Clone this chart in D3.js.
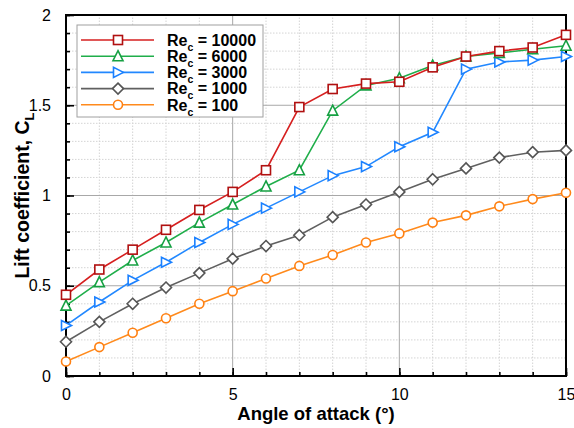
<!DOCTYPE html>
<html>
<head>
<meta charset="utf-8">
<script src="https://cdn.jsdelivr.net/npm/d3@7"></script>
<style>
  html, body { margin: 0; padding: 0; background: #fff; }
  svg { display: block; font-family: "Liberation Sans", Arial, sans-serif; }
</style>
</head>
<body>
<svg id="chart" width="574" height="428"></svg>
<script>
// Angle of attack (degrees)
const angles = [0, 1, 2, 3, 4, 5, 6, 7, 8, 9, 10, 11, 12, 13, 14, 15];

// Lift coefficient for each chord Reynolds number
const cl10000 = [0.45, 0.59, 0.70, 0.81, 0.92, 1.02, 1.14, 1.49, 1.59, 1.62, 1.63, 1.71, 1.77, 1.80, 1.82, 1.89];
const cl6000  = [0.39, 0.52, 0.64, 0.74, 0.85, 0.95, 1.05, 1.14, 1.47, 1.61, 1.65, 1.72, 1.77, 1.79, 1.81, 1.83];
const cl3000  = [0.28, 0.41, 0.53, 0.63, 0.74, 0.84, 0.93, 1.02, 1.11, 1.16, 1.27, 1.35, 1.70, 1.74, 1.75, 1.77];
const cl1000  = [0.19, 0.30, 0.40, 0.49, 0.57, 0.65, 0.72, 0.78, 0.88, 0.95, 1.02, 1.09, 1.15, 1.21, 1.24, 1.25];
const cl100   = [0.08, 0.16, 0.24, 0.32, 0.40, 0.47, 0.54, 0.61, 0.67, 0.74, 0.79, 0.85, 0.89, 0.94, 0.98, 1.015];

const reynolds = ["10000", "6000", "3000", "1000", "100"];

const xTicks = [0, 5, 10, 15];
const yTicks = [0, 0.5, 1, 1.5, 2];

const series = [
  { re: reynolds[0], values: cl10000, color: "#d61f1f", stroke: "#b01010", shape: "square" },
  { re: reynolds[1], values: cl6000,  color: "#1fae4a", stroke: "#16a043", shape: "triUp" },
  { re: reynolds[2], values: cl3000,  color: "#2288ff", stroke: "#1a80ff", shape: "triRight" },
  { re: reynolds[3], values: cl1000,  color: "#606060", stroke: "#555555", shape: "diamond" },
  { re: reynolds[4], values: cl100,   color: "#ff8a1c", stroke: "#ff8012", shape: "circle" }
];

const svg = d3.select("#chart");
const margin = { left: 66, right: 8, top: 15, bottom: 52 };
const W = 574, H = 428;
const x = d3.scaleLinear().domain([0, 15]).range([margin.left, W - margin.right]);
const y = d3.scaleLinear().domain([0, 2]).range([H - margin.bottom, margin.top]);

// minor dotted grid
const g = svg.append("g");
g.selectAll("line.vminor").data(d3.range(1, 15).filter(v => v % 5 !== 0)).join("line")
  .attr("x1", d => x(d)).attr("x2", d => x(d))
  .attr("y1", y(0)).attr("y2", y(2))
  .attr("stroke", "#d4d4d4").attr("stroke-width", 1).attr("stroke-dasharray", "1.5,1.5");
g.selectAll("line.hminor").data(d3.range(1, 20).filter(v => v % 5 !== 0).map(v => v / 10)).join("line")
  .attr("y1", d => y(d)).attr("y2", d => y(d))
  .attr("x1", x(0)).attr("x2", x(15))
  .attr("stroke", "#d4d4d4").attr("stroke-width", 1).attr("stroke-dasharray", "1.5,1.5");
// major solid grid
g.selectAll("line.vmajor").data([5, 10]).join("line")
  .attr("x1", d => x(d)).attr("x2", d => x(d))
  .attr("y1", y(0)).attr("y2", y(2))
  .attr("stroke", "#a8a8a8").attr("stroke-width", 1);
g.selectAll("line.hmajor").data([0.5, 1, 1.5]).join("line")
  .attr("y1", d => y(d)).attr("y2", d => y(d))
  .attr("x1", x(0)).attr("x2", x(15))
  .attr("stroke", "#a8a8a8").attr("stroke-width", 1);

// axes with inward ticks
const xAxisMajor = d3.axisBottom(x).tickValues(xTicks).tickSize(-8).tickPadding(13).tickFormat(d3.format("d"));
const xAxisMinor = d3.axisBottom(x).tickValues(d3.range(0, 16)).tickSize(-4).tickFormat("");
const yAxisMajor = d3.axisLeft(y).tickValues(yTicks).tickSize(-8).tickPadding(15).tickFormat(d => String(d));
const yAxisMinor = d3.axisLeft(y).tickValues(d3.range(0, 21).map(v => v / 10)).tickSize(-4).tickFormat("");

function styleAxis(sel) {
  sel.select(".domain").remove();
  sel.selectAll(".tick line").attr("stroke", "#000").attr("stroke-width", 1.6);
  sel.selectAll(".tick text").attr("fill", "#000").attr("font-size", 16)
    .attr("font-family", "'Liberation Sans', Arial, sans-serif");
}
svg.append("g").attr("transform", `translate(0,${y(0)})`).call(xAxisMinor).call(styleAxis);
svg.append("g").attr("transform", `translate(0,${y(0)})`).call(xAxisMajor).call(styleAxis);
svg.append("g").attr("transform", `translate(${x(0)},0)`).call(yAxisMinor).call(styleAxis);
svg.append("g").attr("transform", `translate(${x(0)},0)`).call(yAxisMajor).call(styleAxis);

// frame
svg.append("rect")
  .attr("x", x(0)).attr("y", y(2))
  .attr("width", x(15) - x(0)).attr("height", y(0) - y(2))
  .attr("fill", "none").attr("stroke", "#000").attr("stroke-width", 2);

// marker shapes
function marker(sel, shape, color) {
  const s = 4.5;
  if (shape === "circle") {
    sel.append("circle").attr("r", s);
  } else if (shape === "square") {
    sel.append("rect").attr("x", -s).attr("y", -s).attr("width", 2 * s).attr("height", 2 * s);
  } else if (shape === "triUp") {
    sel.append("path").attr("d", `M0,${-s - 1}L${s + 0.5},${s}L${-s - 0.5},${s}Z`);
  } else if (shape === "triRight") {
    sel.append("path").attr("d", `M${s + 1},0L${-s},${s + 0.5}L${-s},${-s - 0.5}Z`);
  } else if (shape === "diamond") {
    sel.append("path").attr("d", `M0,${-s - 1}L${s + 1},0L0,${s + 1}L${-s - 1},0Z`);
  }
  sel.selectAll("*").attr("fill", "#fff").attr("stroke", color).attr("stroke-width", 1.6);
}

const line = d3.line().x((d, i) => x(angles[i])).y(d => y(d));

// draw in reverse so the high-Re curves sit on top
series.slice().reverse().forEach(s => {
  svg.append("path").datum(s.values)
    .attr("d", line).attr("fill", "none")
    .attr("stroke", s.color).attr("stroke-width", 1.6);
  s.values.forEach((v, i) => {
    const m = svg.append("g").attr("transform", `translate(${x(angles[i])},${y(v)})`);
    marker(m, s.shape, s.stroke);
  });
});

// legend
const lg = svg.append("g");
lg.append("rect")
  .attr("x", 77).attr("y", 25).attr("width", 186).attr("height", 92)
  .attr("fill", "#fff").attr("stroke", "#a0a0a0").attr("stroke-width", 1);
series.forEach((s, i) => {
  const cy = 40 + i * 16.2;
  lg.append("line").attr("x1", 81).attr("x2", 154).attr("y1", cy).attr("y2", cy)
    .attr("stroke", s.color).attr("stroke-width", 1.6);
  marker(lg.append("g").attr("transform", `translate(118,${cy})`), s.shape, s.stroke);
  const t = lg.append("text").attr("x", 167).attr("y", cy + 5.8)
    .attr("font-size", 16).attr("font-weight", "bold").attr("fill", "#000");
  t.append("tspan").text("Re");
  t.append("tspan").attr("font-size", 10.5).attr("dy", 5).text("c");
  t.append("tspan").attr("dy", -5).text(" = " + s.re);
});

// axis titles
svg.append("text")
  .attr("x", (x(0) + x(15)) / 2).attr("y", 420)
  .attr("text-anchor", "middle").attr("font-size", 18.5).attr("font-weight", "bold")
  .text("Angle of attack (°)");
const yt = svg.append("text")
  .attr("transform", `translate(29,${(y(0) + y(2)) / 2}) rotate(-90)`)
  .attr("text-anchor", "middle").attr("font-size", 19.5).attr("font-weight", "bold");
yt.append("tspan").text("Lift coefficient, C");
yt.append("tspan").attr("font-size", 13).attr("dy", 5).text("L");
</script>
</body>
</html>
